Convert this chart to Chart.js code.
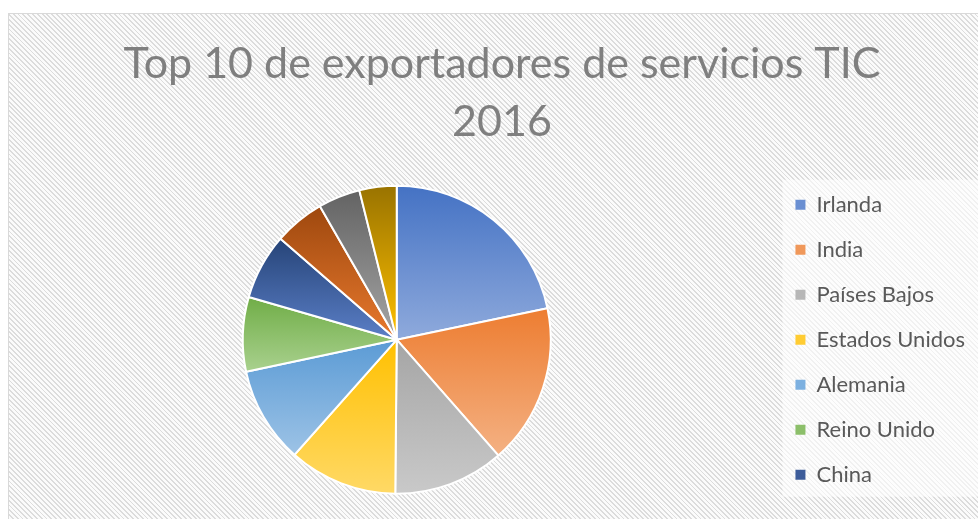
<!DOCTYPE html>
<html>
<head>
<meta charset="utf-8">
<script src="https://cdn.jsdelivr.net/npm/chart.js@4"></script>
<style>
  html, body { margin: 0; padding: 0; background: #ffffff; overflow: hidden; }
  body { width: 978px; height: 519px; position: relative; }
  #frame {
    position: absolute; left: 8px; top: 13px;
    width: 990px; height: 540px;
    border: 1px solid #d9d9d9;
    background: repeating-linear-gradient(45deg, #dcdcdc 0px, #dcdcdc 1.3px, #fbfbfb 1.3px, #fbfbfb 3.4px);
  }
</style>
</head>
<body>
<div id="frame"><canvas id="chart" width="990" height="540"></canvas></div>
<script>
document.addEventListener("DOMContentLoaded", function () {

    const paises = ["Irlanda", "India", "Países Bajos", "Estados Unidos", "Alemania",
                    "Reino Unido", "China", "Francia", "Israel", "Suecia"];
    const valores = [21.7, 16.8, 11.6, 11.4, 10.1, 7.8, 6.9, 5.3, 4.4, 3.9];
    const coloresArriba = ["#4472c4", "#ed7d31", "#a5a5a5", "#ffc000", "#5b9bd5",
                           "#70ad47", "#264478", "#9e480e", "#636363", "#997300"];
    const coloresAbajo = ["#8faadc", "#f4b183", "#c9c9c9", "#ffd966", "#9dc3e6",
                          "#a9d18e", "#5b7fc7", "#e8792e", "#a5a5a5", "#ffc000"];
    const coloresLeyenda = ["#6a8fd2", "#f0985a", "#b7b7b7", "#ffcc33", "#7cb0e0",
                            "#8cbf6a", "#3d5c9a", "#c4601e", "#848484", "#cc9a00"];
    const itemsLeyenda = 7;   // el original solo muestra 7 entradas

    const radio = 154;
    const total = valores.reduce((a, b) => a + b, 0);

    // degradado vertical por porción, como en Excel
    function degradado(context) {
        const chart = context.chart;
        const area = chart.chartArea;
        const i = context.dataIndex;
        if (!area) return coloresArriba[i];
        let inicio = -Math.PI / 2;
        for (let k = 0; k < i; k++) inicio += valores[k] / total * 2 * Math.PI;
        const fin = inicio + valores[i] / total * 2 * Math.PI;
        const cx = (area.left + area.right) / 2;
        const cy = (area.top + area.bottom) / 2;
        const ys = [cy, cy + radio * Math.sin(inicio), cy + radio * Math.sin(fin)];
        [-Math.PI / 2, Math.PI / 2, 3 * Math.PI / 2].forEach(a => {
            if (a >= inicio && a <= fin) ys.push(cy + radio * Math.sin(a));
        });
        const g = chart.ctx.createLinearGradient(0, Math.min(...ys), 0, Math.max(...ys));
        g.addColorStop(0, coloresArriba[i]);
        g.addColorStop(1, coloresAbajo[i]);
        return g;
    }

    // fondo más claro detrás de la leyenda
    const fondoLeyenda = {
        id: "fondoLeyenda",
        beforeDraw(chart) {
            const lg = chart.legend;
            if (!lg) return;
            const ctx = chart.ctx;
            const centro = (lg.top + lg.bottom) / 2;
            ctx.save();
            ctx.fillStyle = "rgba(255,255,255,0.6)";
            ctx.fillRect(lg.left + 10, centro - 160, chart.width - lg.left, 317);
            ctx.restore();
        }
    };

    // caja vacía a la derecha de la leyenda para separarla del borde
    const espaciador = {
        id: "espaciador",
        beforeInit(chart) {
            Chart.layouts.addBox(chart, {
                position: "right",
                weight: 2000,
                fullSize: false,
                options: {},
                width: 0,
                height: 0,
                isHorizontal: () => false,
                update(maxWidth, maxHeight) { this.width = 8; this.height = maxHeight; },
                draw() {}
            });
        }
    };

    new Chart(document.getElementById("chart"), {
        type: "pie",
        data: {
            labels: paises,
            datasets: [{
                data: valores,
                backgroundColor: degradado,
                borderColor: "#ffffff",
                borderWidth: 2,
                radius: radio
            }]
        },
        options: {
            responsive: false,
            animation: false,
            layout: { padding: { left: 12, right: 16, top: 0, bottom: 38 } },
            plugins: {
                title: {
                    display: true,
                    text: ["Top 10 de exportadores de servicios TIC", "2016"],
                    color: "#7f7f7f",
                    font: { family: "Lato", size: 43, weight: "normal", lineHeight: 1.33 },
                    padding: { top: 22, bottom: 13 }
                },
                legend: {
                    position: "right",
                    fullSize: false,
                    labels: {
                        color: "#595959",
                        font: { family: "Lato", size: 22 },
                        boxWidth: 10,
                        boxHeight: 10,
                        padding: 23,
                        filter: (item) => item.index < itemsLeyenda,
                        generateLabels: (chart) => paises.map((p, i) => ({
                            text: p,
                            fillStyle: coloresLeyenda[i],
                            strokeStyle: coloresLeyenda[i],
                            lineWidth: 0,
                            fontColor: "#595959",
                            hidden: false,
                            index: i
                        }))
                    }
                },
                tooltip: { enabled: false }
            }
        },
        plugins: [fondoLeyenda, espaciador]
    });
});
</script>
</body>
</html>
